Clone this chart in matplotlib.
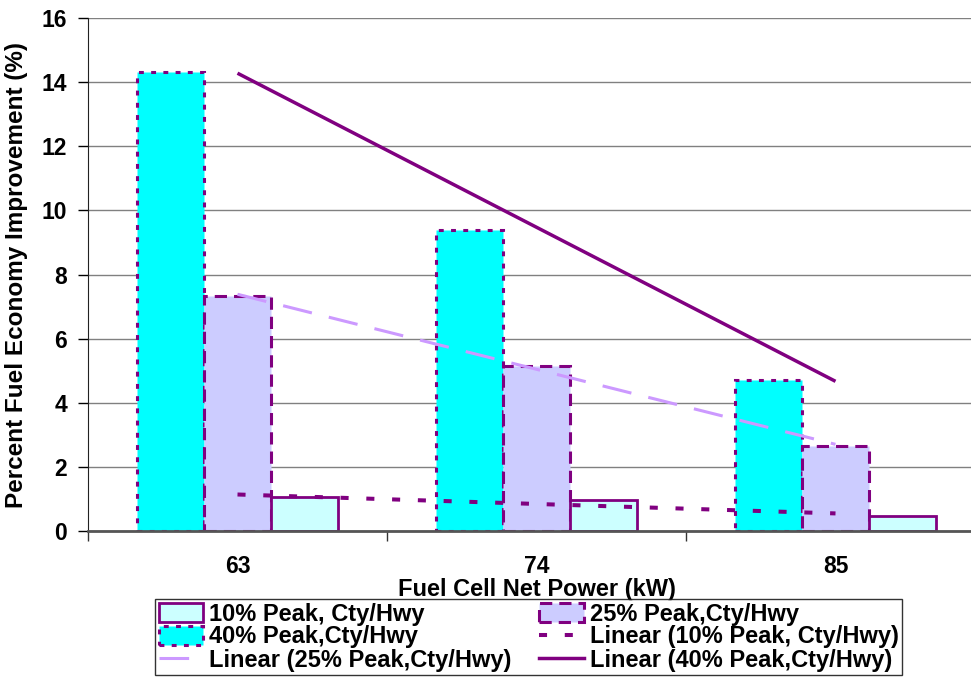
import numpy as np
import matplotlib
matplotlib.use("Agg")
import matplotlib.pyplot as plt
from matplotlib import font_manager
from matplotlib.patches import Patch
from matplotlib.lines import Line2D

# Data
power = ["63", "74", "85"]
peak40 = [14.32, 9.39, 4.71]
peak25 = [7.33, 5.15, 2.65]
peak10 = [1.07, 0.98, 0.48]
yticks = [0, 2, 4, 6, 8, 10, 12, 14, 16]

purple = "#800080"
plt.rcParams['font.family'] = ['Liberation Sans', 'DejaVu Sans']
plt.rcParams['font.weight'] = 'bold'

names = {f.name for f in font_manager.fontManager.ttflist}
narrow = 'Liberation Sans Narrow' if 'Liberation Sans Narrow' in names else 'Liberation Sans'

fig = plt.figure(figsize=(9.71, 6.77), dpi=100)
ax = fig.add_axes([88/971, 1-531/677, (985-88)/971, (531-18)/677])

x = np.arange(len(power))
w = 0.223

ax.bar(x - w, peak40, w, color="#00FFFF", edgecolor=purple, linewidth=2.2,
       linestyle=(0, (1.6, 2.4)), zorder=2, label="40% Peak,Cty/Hwy")
ax.bar(x, peak25, w, color="#CCCCFF", edgecolor=purple, linewidth=2.2,
       linestyle=(0, (4, 2.3)), zorder=2, label="25% Peak,Cty/Hwy")
ax.bar(x + w, peak10, w, color="#CCFFFF", edgecolor=purple, linewidth=2.0,
       zorder=2, label="10% Peak, Cty/Hwy")

# linear trendlines through the series values
xt = x + 1
for vals, kw in [(peak10, dict(color=purple, lw=2.9, linestyle=(0, (2, 4.4)))),
                 (peak25, dict(color="#CC99FF", lw=2.2, linestyle=(0, (9.7, 5.7)))),
                 (peak40, dict(color=purple, lw=2.5, linestyle="-"))]:
    p = np.polyfit(xt, vals, 1)
    ax.plot(x, np.polyval(p, xt), zorder=3, solid_capstyle="butt", **kw)

ax.set_xlim(-0.5, 2.5)
ax.set_ylim(0, 16)
ax.set_yticks(yticks)
ax.yaxis.grid(True, color="#808080", lw=1.0, zorder=0)
ax.set_axisbelow(True)
ax.set_xticks(x)
ax.set_xticklabels(power, fontsize=16.5, fontweight="bold")
ax.set_xticks([-0.5, 0.5, 1.5, 2.5], minor=True)
ax.tick_params(axis="x", which="major", length=0, pad=17)
ax.tick_params(axis="x", which="minor", length=7, width=1, color="#333333")
ax.tick_params(axis="y", length=7, width=1, pad=8, labelsize=16.5)
for t in ax.get_yticklabels():
    t.set_fontweight("bold")

for s in ["top", "right"]:
    ax.spines[s].set_visible(False)
ax.spines["left"].set_color("#222222")
ax.spines["bottom"].set_color("#555555")
ax.spines["bottom"].set_linewidth(2)

ax.set_ylabel("Percent Fuel Economy Improvement (%)", fontsize=17.5, fontweight="bold", labelpad=10)
ax.set_xlabel("Fuel Cell Net Power (kW)", fontsize=17, fontweight="bold", labelpad=0)

handles = [
    Patch(facecolor="#CCFFFF", edgecolor=purple, lw=2.0, label="10% Peak, Cty/Hwy"),
    Patch(facecolor="#00FFFF", edgecolor=purple, lw=2.2, linestyle=(0, (1.6, 2.4)), label="40% Peak,Cty/Hwy"),
    Line2D([], [], color="#CC99FF", lw=2.2, linestyle=(0, (9.7, 5.7)), label="Linear (25% Peak,Cty/Hwy)"),
    Patch(facecolor="#CCCCFF", edgecolor=purple, lw=2.2, linestyle=(0, (4, 2.3)), label="25% Peak,Cty/Hwy"),
    Line2D([], [], color=purple, lw=2.9, linestyle=(0, (2, 4.4)), label="Linear (10% Peak, Cty/Hwy)"),
    Line2D([], [], color=purple, lw=2.5, label="Linear (40% Peak,Cty/Hwy)"),
]
leg = fig.legend(handles=handles, ncol=2, loc="center",
                 bbox_to_anchor=(155/971, 1-675/677, (902-155)/971, (675-599)/677),
                 mode="expand", frameon=True, fancybox=False, edgecolor="black",
                 handlelength=1.9, handleheight=0.9, handletextpad=0.25,
                 labelspacing=0.0, borderpad=0.15, borderaxespad=0, columnspacing=1.0,
                 prop={"family": [narrow, 'DejaVu Sans'], "weight": "bold", "size": 17})
leg.get_frame().set_linewidth(1.0)

fig.savefig("out.png", dpi=100)
